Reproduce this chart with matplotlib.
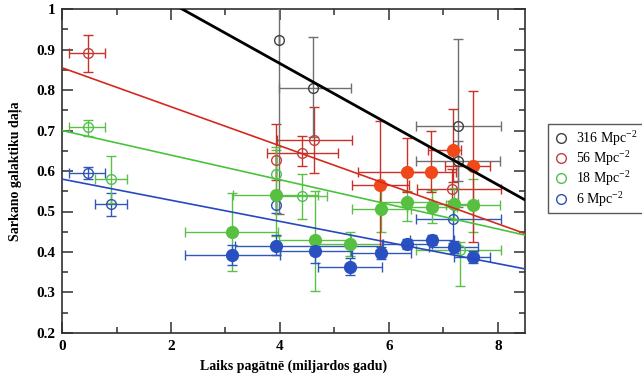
import matplotlib
matplotlib.use("Agg")
import matplotlib.pyplot as plt
from matplotlib.ticker import MultipleLocator
import numpy as np

plt.rcParams['font.family'] = ['Liberation Serif', 'DejaVu Serif']
plt.rcParams['mathtext.fontset'] = 'custom'
plt.rcParams['mathtext.rm'] = 'Liberation Serif'
plt.rcParams['mathtext.it'] = 'Liberation Serif:italic'
plt.rcParams['mathtext.bf'] = 'Liberation Serif:bold'

labels = ["316 Mpc$^{-2}$", "56 Mpc$^{-2}$", "18 Mpc$^{-2}$", "6 Mpc$^{-2}$"]

# fit lines: intercept at t=0 and slope
fit_b0 = [1.165, 0.855, 0.700, 0.580]
fit_b1 = [-0.0749, -0.0482, -0.0304, -0.0261]

# open circles (x, y, xerr_lo, xerr_hi, yerr_lo, yerr_hi)
open_316 = [
    (3.99, 0.923, 0.0, 0.0, 0.43, 0.08),
    (4.61, 0.805, 0.62, 0.70, 0.12, 0.125),
    (7.27, 0.712, 0.77, 0.78, 0.20, 0.215),
    (7.26, 0.625, 0.76, 0.78, 0.05, 0.05),
]
open_56 = [
    (0.47, 0.891, 0.34, 0.32, 0.047, 0.045),
    (3.93, 0.627, 0.0, 0.0, 0.05, 0.088),
    (4.41, 0.645, 0.65, 0.66, 0.033, 0.041),
    (4.63, 0.677, 0.68, 0.70, 0.082, 0.081),
    (7.16, 0.555, 0.65, 0.89, 0.03, 0.05),
]
open_18 = [
    (0.47, 0.708, 0.34, 0.32, 0.022, 0.018),
    (0.90, 0.580, 0.29, 0.30, 0.06, 0.058),
    (3.93, 0.593, 0.0, 0.0, 0.05, 0.06),
    (4.41, 0.538, 0.45, 0.45, 0.057, 0.055),
    (7.30, 0.405, 0.80, 0.75, 0.09, 0.02),
]
open_6 = [
    (0.47, 0.595, 0.34, 0.32, 0.015, 0.015),
    (0.90, 0.518, 0.29, 0.30, 0.028, 0.028),
    (3.93, 0.516, 0.0, 0.0, 0.02, 0.02),
    (7.17, 0.481, 0.67, 0.88, 0.06, 0.04),
]
# filled circles
fill_56 = [
    (5.83, 0.565, 0.50, 0.53, 0.16, 0.159),
    (6.34, 0.598, 0.90, 0.45, 0.05, 0.083),
    (6.78, 0.598, 0.45, 0.45, 0.05, 0.101),
    (7.17, 0.652, 0.45, 0.16, 0.08, 0.101),
    (7.54, 0.612, 0.52, 0.31, 0.187, 0.186),
]
fill_18 = [
    (3.12, 0.450, 0.86, 0.85, 0.097, 0.095),
    (3.93, 0.540, 0.79, 0.76, 0.10, 0.12),
    (4.65, 0.430, 0.66, 0.65, 0.126, 0.12),
    (5.28, 0.420, 0.60, 0.60, 0.03, 0.03),
    (5.85, 0.506, 0.52, 0.55, 0.057, 0.059),
    (6.34, 0.523, 0.50, 0.45, 0.046, 0.027),
    (6.79, 0.512, 0.45, 0.45, 0.04, 0.04),
    (7.19, 0.518, 0.45, 0.45, 0.04, 0.04),
    (7.54, 0.516, 0.50, 0.50, 0.066, 0.064),
]
fill_6 = [
    (3.12, 0.393, 0.86, 0.88, 0.025, 0.025),
    (3.93, 0.416, 0.75, 1.95, 0.023, 0.025),
    (4.65, 0.403, 0.65, 0.65, 0.03, 0.03),
    (5.28, 0.364, 0.59, 0.60, 0.02, 0.02),
    (5.85, 0.398, 0.52, 0.55, 0.015, 0.015),
    (6.34, 0.420, 0.45, 0.45, 0.012, 0.012),
    (6.79, 0.430, 0.40, 0.40, 0.012, 0.012),
    (7.19, 0.412, 0.45, 0.45, 0.015, 0.015),
    (7.54, 0.388, 0.35, 0.31, 0.015, 0.015),
]

line_colors = ['black', '#d42a1e', '#48c43a', '#2848c0']
err_colors = ['#707070', '#c83028', '#5cc048', '#3058b8']
open_colors = ['#404040', '#c04040', '#50c050', '#3050b0']
fill_colors = [None, '#f04818', '#58c040', '#2850c0']

fig = plt.figure(figsize=(6.42, 3.76), dpi=100)
ax = fig.add_axes([0.0966, 0.1144, 0.7214, 0.8616])

def draw(points, ecolor, mfc, mec, ms):
    a = np.array(points)
    ax.errorbar(a[:, 0], a[:, 1], xerr=[a[:, 2], a[:, 3]], yerr=[a[:, 4], a[:, 5]],
                fmt='o', ms=ms, mfc=mfc, mec=mec, mew=1.0, ecolor=ecolor,
                elinewidth=1.0, capsize=3.5, capthick=1.0, zorder=3)

tx = np.array([0.0, 8.5])
for i in range(4):
    ax.plot(tx, fit_b0[i] + fit_b1[i] * tx, color=line_colors[i],
            lw=2.0 if i == 0 else 1.2, zorder=4)

draw(open_6, err_colors[3], 'none', open_colors[3], 7)
draw(open_18, err_colors[2], 'none', open_colors[2], 7)
draw(open_56, err_colors[1], 'none', open_colors[1], 7)
draw(open_316, err_colors[0], 'none', open_colors[0], 7)
draw(fill_18, err_colors[2], fill_colors[2], fill_colors[2], 8.5)
draw(fill_6, err_colors[3], fill_colors[3], fill_colors[3], 8.5)
draw(fill_56, err_colors[1], fill_colors[1], fill_colors[1], 8.5)

ax.set_xlim(0, 8.5)
ax.set_ylim(0.2, 1.0)
ax.xaxis.set_major_locator(MultipleLocator(2))
ax.xaxis.set_minor_locator(MultipleLocator(1))
ax.yaxis.set_major_locator(MultipleLocator(0.1))
ax.yaxis.set_minor_locator(MultipleLocator(0.05))
ax.yaxis.set_major_formatter(plt.FuncFormatter(lambda v, p: ('%g' % round(v, 2))))
ax.tick_params(which='both', direction='in', top=True, right=True, width=1.2, color='#404040')
ax.tick_params(which='major', length=8, pad=5)
ax.tick_params(which='minor', length=4)
for lab in ax.get_xticklabels() + ax.get_yticklabels():
    lab.set_fontweight('bold')
    lab.set_fontsize(11)
for sp in ax.spines.values():
    sp.set_linewidth(1.2)
    sp.set_color('#303030')

ax.set_xlabel('Laiks pagātnē (miljardos gadu)', fontsize=10, fontweight='bold')
ax.xaxis.set_label_coords(0.5, -0.082)
ax.set_ylabel('Sarkano galaktiku daļa', fontsize=10, fontweight='bold', labelpad=10)

handles = [plt.Line2D([], [], ls='none', marker='o', ms=7, mfc='none', mec=c, mew=1.0)
           for c in open_colors]
leg = fig.legend(handles, labels, loc='upper left', bbox_to_anchor=(548/642, 1 - 124/376),
                 frameon=True, fancybox=False, edgecolor='#303030', fontsize=10,
                 handletextpad=0.5, borderpad=0.35, labelspacing=0.1, handlelength=1.2,
                 borderaxespad=0)
leg.get_frame().set_linewidth(1.0)

fig.savefig('out.png', dpi=100)
